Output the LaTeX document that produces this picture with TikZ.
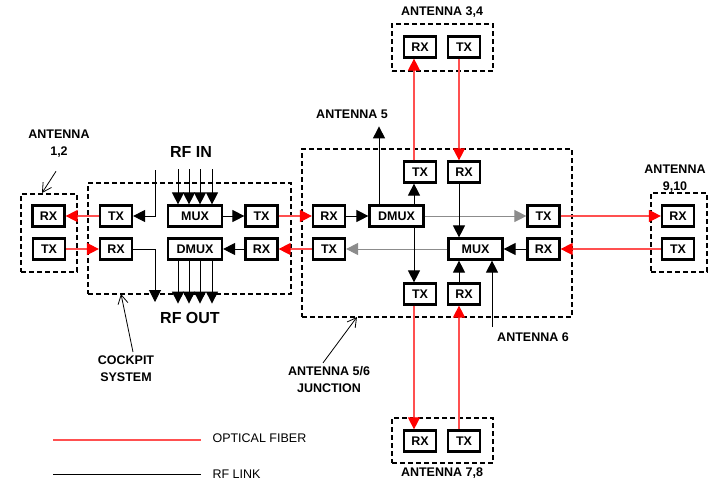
\documentclass[tikz,border=0pt]{standalone}
\usepackage{fontspec}
\setmainfont{Liberation Sans}
\usetikzlibrary{arrows.meta}
\definecolor{fiberred}{RGB}{255,80,80}
\definecolor{linkgray}{RGB}{140,140,140}

\begin{document}
\begin{tikzpicture}[x=1pt, y=-1pt,
  every node/.style={font=\bfseries\fontsize{12.5}{17}\selectfont},
  unit/.style={draw, line width=2.2pt, minimum width=32pt, minimum height=21pt, inner sep=0pt, font=\bfseries\fontsize{12.5}{14}\selectfont},
  wideunit/.style={unit, minimum width=54pt},
  enclosure/.style={draw, line width=1.6pt, dash pattern=on 5pt off 3pt, inner sep=0pt},
  fiber/.style={draw=fiberred, line width=1.1pt, -{Triangle[length=12pt,width=12pt,color=red]}},
  rf/.style={line width=1pt, -{Triangle[length=12pt,width=12pt]}},
  rfgray/.style={draw=linkgray, line width=1pt, -{Triangle[length=12pt,width=12pt,color=linkgray]}},
  pointer/.style={line width=0.8pt, -{Straight Barb[length=9pt,width=10pt]}},
  tag/.style={align=center}]

\useasboundingbox (0,0) rectangle (708,482);

% Dashed enclosures
\node[enclosure, minimum width=56pt, minimum height=78pt] (ant12) at (49,233) {};
\node[enclosure, minimum width=203pt, minimum height=111pt] (cockpit) at (189.5,238.5) {};
\node[enclosure, minimum width=270pt, minimum height=168pt] (junction) at (437,233) {};
\node[enclosure, minimum width=101pt, minimum height=47pt] (ant34) at (442.5,47.5) {};
\node[enclosure, minimum width=101pt, minimum height=45pt] (ant78) at (442.5,440.5) {};
\node[enclosure, minimum width=56pt, minimum height=79pt] (ant910) at (679,232.5) {};

% Antenna 1,2
\node[unit] at (48.5,216) (a12rx) {RX};
\node[unit] at (49,249) (a12tx) {TX};

% Cockpit system
\node[unit] at (116,216) (ctx) {TX};
\node[unit] at (116,249) (crx) {RX};
\node[wideunit] at (195,216) (cmux) {MUX};
\node[wideunit] at (195,249) (cdmux) {DMUX};
\node[unit] at (261.5,216) (ctx2) {TX};
\node[unit] at (261.5,249) (crx2) {RX};

% Antenna 5/6 junction
\node[unit] at (329,216) (jrx) {RX};
\node[wideunit] at (396.5,216) (jdmux) {DMUX};
\node[unit] at (543.5,216) (jtx2) {TX};
\node[unit] at (329,249) (jtx) {TX};
\node[wideunit] at (475.5,249) (jmux) {MUX};
\node[unit] at (543.5,249) (jrx2) {RX};
\node[unit] at (420,172) (jtxt) {TX};
\node[unit] at (464,172) (jrxt) {RX};
\node[unit] at (420,294) (jtxb) {TX};
\node[unit] at (464,294) (jrxb) {RX};

% Remote antennas
\node[unit] at (420,47) (a34rx) {RX};
\node[unit] at (464,47) (a34tx) {TX};
\node[unit] at (420,441) (a78rx) {RX};
\node[unit] at (464,441) (a78tx) {TX};
\node[unit] at (678,216) (a910rx) {RX};
\node[unit] at (678,249) (a910tx) {TX};

% Labels
\node[tag] at (59,144) (a12lbl) {ANTENNA\\1,2};
\node[tag] at (442,12) (a34lbl) {ANTENNA 3,4};
\node[tag] at (352,114) (a5lbl) {ANTENNA 5};
\node[tag] at (533,337) (a6lbl) {ANTENNA 6};
\node[tag] at (442,473) (a78lbl) {ANTENNA 7,8};
\node[tag] at (675,179) (a910lbl) {ANTENNA\\9,10};
\node[tag] at (329,379.5) (jlbl) {ANTENNA 5/6\\JUNCTION};
\node[tag] at (126,368.5) (cklbl) {COCKPIT\\SYSTEM};
\node[font=\bfseries\fontsize{16}{18}\selectfont] at (191,152) (rfin) {RF IN};
\node[font=\bfseries\fontsize{16}{18}\selectfont] at (190,318) (rfout) {RF OUT};

% Optical fiber links
\draw[fiber] (ctx) -- (a12rx);
\draw[fiber] (a12tx) -- (crx);
\draw[fiber] (ctx2) -- (jrx);
\draw[fiber] (jtx) -- (crx2);
\draw[fiber] (jtx2) -- (a910rx);
\draw[fiber] (a910tx) -- (jrx2);
\draw[fiber] ([xshift=-6pt]jtxt.north) -- ([xshift=-6pt]a34rx.south);
\draw[fiber] ([xshift=-5pt]a34tx.south) -- ([xshift=-5pt]jrxt.north);
\draw[fiber] ([xshift=-6pt]jtxb.south) -- ([xshift=-6pt]a78rx.north);
\draw[fiber] ([xshift=-5pt]a78tx.north) -- ([xshift=-5pt]jrxb.south);

% RF links, cockpit
\draw[rf] (cmux) -- (ctx2);
\draw[rf] (crx2) -- (cdmux);
\coordinate (ckin) at (155,170);
\coordinate (ckout) at (155,302);
\draw[rf] (ckin) |- (ctx);
\draw[rf] (crx) -| (ckout);
\foreach \dx in {-17,-6,5,17} {
    \draw[rf] ([xshift=\dx pt, yshift=35pt]cmux.north) -- ([xshift=\dx pt]cmux.north);
    \draw[rf] ([xshift=\dx pt]cdmux.south) -- ([xshift=\dx pt, yshift=-43pt]cdmux.south);
}

% RF links, junction
\draw[rf] (jrx) -- (jdmux);
\draw[rf] (jrx2) -- (jmux);
\draw[rfgray] (jdmux) -- (jtx2);
\draw[rfgray] (jmux) -- (jtx);
\draw[rf] ([xshift=-6pt]jtxt.south |- jdmux.north) -- ([xshift=-6pt]jtxt.south);
\draw[rf] ([xshift=-6pt]jtxb.north |- jdmux.south) -- ([xshift=-6pt]jtxb.north);
\draw[rf] ([xshift=-5pt]jrxt.south) -- ([xshift=-5pt]jrxt.south |- jmux.north);
\draw[rf] ([xshift=-5pt]jrxb.north) -- ([xshift=-5pt]jrxb.north |- jmux.south);
\draw[rf] ([xshift=-17.5pt]jdmux.north) -- ++(0,-78);
\coordinate (a6in) at (492,327);
\draw[rf] (a6in) -- (a6in |- jmux.south);

% Pointers
\coordinate (a12tip) at (42,193);
\coordinate (cktip) at (121,294);
\coordinate (jtip) at (357,317);
\draw[pointer] ([shift={(-3pt,-10pt)}]a12lbl.south) -- (a12tip);
\draw[pointer] ([xshift=7pt]cklbl.north) -- (cktip);
\draw[pointer] ([xshift=-6pt]jlbl.north) -- (jtip);

% Legend
\node[anchor=west, font=\fontsize{12.5}{15}\selectfont] at (209,438) (fiberlbl) {OPTICAL FIBER};
\node[anchor=west, font=\fontsize{12.5}{15}\selectfont] at (209,474) (rflbl) {RF LINK};
\draw[fiberred, line width=1.1pt] (53,440) -- (201,440);
\draw[line width=1pt] (53,474) -- (201,474);
\end{tikzpicture}
\end{document}
